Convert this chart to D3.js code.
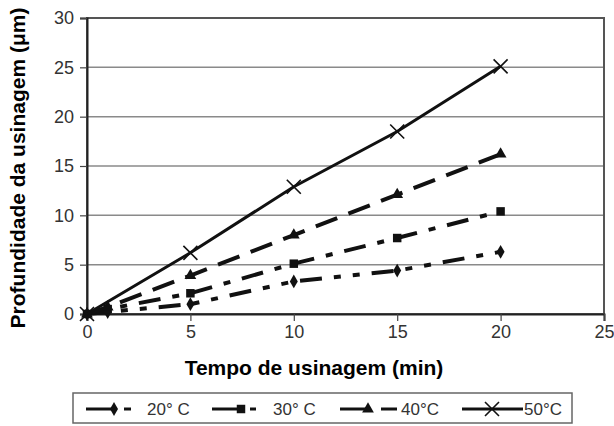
<!DOCTYPE html>
<html lang="pt">

<head>
    <meta charset="UTF-8" />
    <title>Profundidade da usinagem</title>
    <script src="https://d3js.org/d3.v7.js"></script>
    <style>
        body { margin: 0; background: #fff; }
        text { font-family: Arial, "Liberation Sans", sans-serif; }
    </style>
</head>

<body>
    <svg id="chart"></svg>
</body>

<script>
    // dados
    var tempos = [0, 1, 5, 10, 15, 20];
    var s20 = [0, 0.2, 1.0, 3.3, 4.4, 6.3];
    var s30 = [0, 0.5, 2.1, 5.1, 7.7, 10.4];
    var s40 = [0, 0.7, 3.9, 8.0, 12.1, 16.2];
    var s50 = [0, null, 6.2, 12.9, 18.5, 25.1];
    var nomes = ["20° C", "30° C", "40°C", "50°C"];
    var xTicks = [0, 5, 10, 15, 20, 25];
    var yTicks = [0, 5, 10, 15, 20, 25, 30];

    var width = 614, height = 426;
    var margin = { left: 87, right: 604, top: 18, bottom: 314 };

    var svg = d3.select("#chart")
        .attr("width", width)
        .attr("height", height);

    var x = d3.scaleLinear().domain([0, 25]).range([margin.left, margin.right]);
    var y = d3.scaleLinear().domain([0, 30]).range([margin.bottom, margin.top]);

    // grade
    svg.append("g")
        .selectAll("line")
        .data(yTicks.slice(1))
        .enter()
        .append("line")
        .attr("x1", margin.left).attr("x2", margin.right)
        .attr("y1", d => y(d)).attr("y2", d => y(d))
        .attr("stroke", "#8a8a8a")
        .attr("stroke-width", 1.5);

    // moldura
    svg.append("rect")
        .attr("x", margin.left).attr("y", margin.top)
        .attr("width", margin.right - margin.left).attr("height", margin.bottom - margin.top)
        .attr("fill", "none")
        .attr("stroke", "#555")
        .attr("stroke-width", 2);

    var xAxis = svg.append("g")
        .attr("transform", `translate(0,${margin.bottom})`)
        .call(d3.axisBottom(x).tickValues(xTicks).tickSize(7).tickPadding(4));
    var yAxis = svg.append("g")
        .attr("transform", `translate(${margin.left},0)`)
        .call(d3.axisLeft(y).tickValues(yTicks).tickSize(7).tickPadding(6));

    [xAxis, yAxis].forEach(a => {
        a.select(".domain").attr("stroke", "#222").attr("stroke-width", 2);
        a.selectAll(".tick line").attr("stroke", "#444").attr("stroke-width", 1.2);
        a.selectAll(".tick text")
            .attr("fill", "#333")
            .style("font-size", "18px")
            .style("font-family", "Arial, 'Liberation Sans', sans-serif");
    });

    // titulos
    svg.append("text")
        .attr("x", 314)
        .attr("y", 375)
        .attr("text-anchor", "middle")
        .style("font-size", "21px")
        .style("font-weight", "bold")
        .text("Tempo de usinagem (min)");

    svg.append("text")
        .attr("transform", "translate(25,168) rotate(-90)")
        .attr("text-anchor", "middle")
        .style("font-size", "21px")
        .style("font-weight", "bold")
        .text("Profundidade da usinagem (μm)");

    // series
    var series = [
        { nome: nomes[0], vals: s20, dash: "22,12,7,12,7,12", marker: "diamond" },
        { nome: nomes[1], vals: s30, dash: "22,12,7,12", marker: "square" },
        { nome: nomes[2], vals: s40, dash: "23,12", marker: "triangle" },
        { nome: nomes[3], vals: s50, dash: null, marker: "x" }
    ];

    var line = d3.line()
        .x(d => x(d[0]))
        .y(d => y(d[1]));

    function drawMarker(g, type, cx, cy) {
        if (type == "x") {
            g.append("path")
                .attr("d", `M${cx - 7},${cy - 7}L${cx + 7},${cy + 7}M${cx - 7},${cy + 7}L${cx + 7},${cy - 7}`)
                .attr("stroke", "#111").attr("stroke-width", 1.6).attr("fill", "none");
        } else {
            var sym = type == "diamond" ? d3.symbolDiamond : type == "square" ? d3.symbolSquare : d3.symbolTriangle;
            var size = type == "diamond" ? 55 : type == "square" ? 72 : 60;
            g.append("path")
                .attr("d", d3.symbol().type(sym).size(size)())
                .attr("transform", `translate(${cx},${cy})`)
                .attr("fill", "#111");
        }
    }

    series.forEach(s => {
        var pts = tempos.map((t, i) => [t, s.vals[i]]).filter(d => d[1] != null);
        var p = svg.append("path")
            .datum(pts)
            .attr("d", line)
            .attr("fill", "none")
            .attr("stroke", "#111")
            .attr("stroke-width", s.dash ? 4 : 3);
        if (s.dash) p.attr("stroke-dasharray", s.dash);
        var g = svg.append("g");
        pts.forEach(d => drawMarker(g, s.marker, x(d[0]), y(d[1])));
    });

    // legenda
    svg.append("rect")
        .attr("x", 73).attr("y", 393)
        .attr("width", 499).attr("height", 30)
        .attr("fill", "#fff")
        .attr("stroke", "#666")
        .attr("stroke-width", 1.5);

    var legPos = [
        { x0: 86, m: 114, d0: 124, d1: 131, tx: 147 },
        { x0: 212, m: 241, d0: 250, d1: 256, tx: 273 },
        { x0: 340, m: 368, d0: 381, d1: 397, tx: 401 },
        { x0: 462, m: 492, d0: 492, d1: 523, tx: 524 }
    ];
    var ly = 409;
    series.forEach((s, i) => {
        var lp = legPos[i];
        var g = svg.append("g");
        g.append("line")
            .attr("x1", lp.x0).attr("x2", lp.m)
            .attr("y1", ly).attr("y2", ly)
            .attr("stroke", "#111").attr("stroke-width", 3);
        g.append("line")
            .attr("x1", lp.d0).attr("x2", lp.d1)
            .attr("y1", ly).attr("y2", ly)
            .attr("stroke", "#111").attr("stroke-width", 3);
        drawMarker(g, s.marker, lp.m, ly);
        g.append("text")
            .attr("x", lp.tx).attr("y", ly + 6)
            .attr("fill", "#333")
            .style("font-size", "17px")
            .text(s.nome);
    });
</script>

</html>
